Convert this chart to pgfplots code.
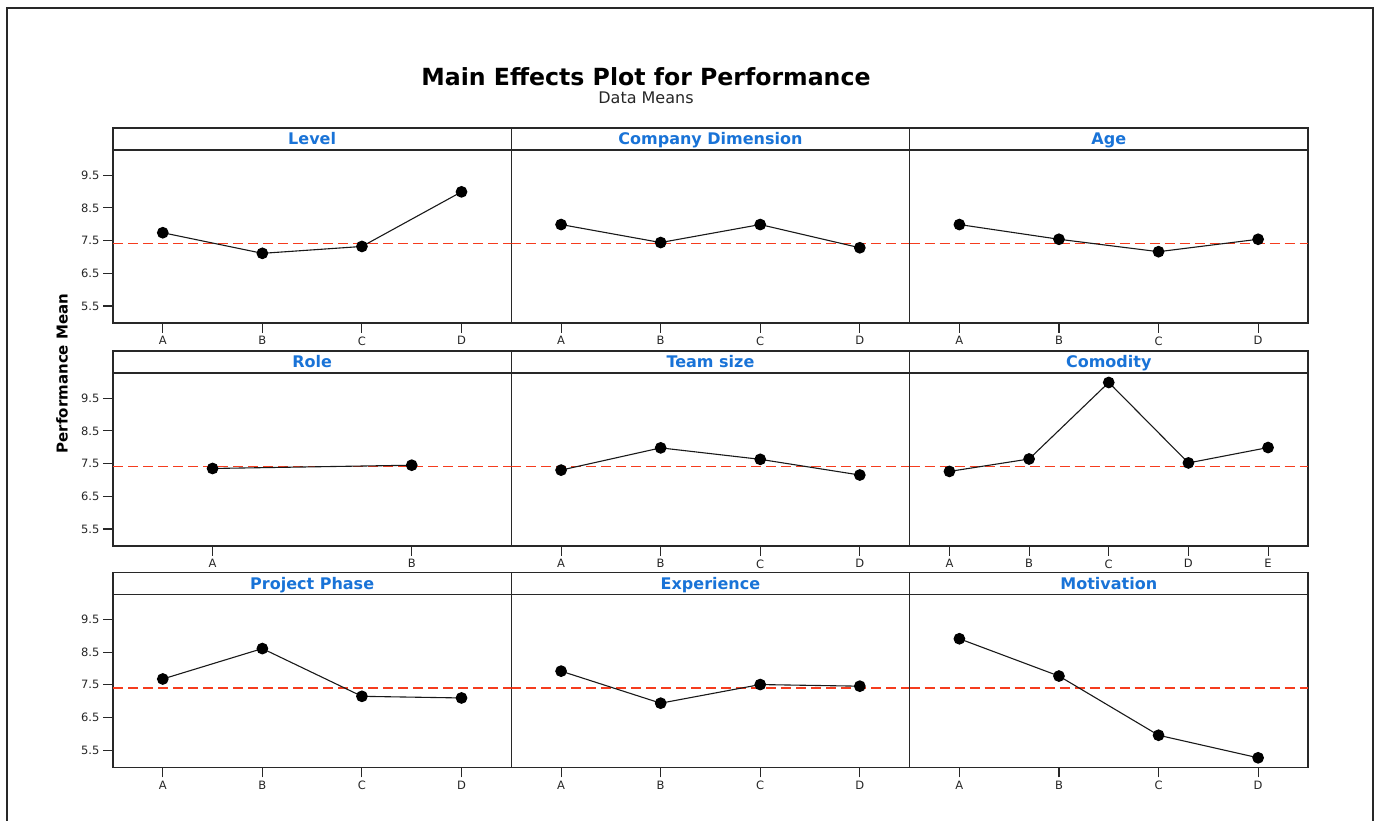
\documentclass[border=0pt]{standalone}
\usepackage{pgfplots}
\pgfplotsset{compat=1.18}
\usepackage{fontspec}
\setmainfont{DejaVu Sans}
\definecolor{stripblue}{RGB}{25,115,215}
\definecolor{refred}{RGB}{245,60,30}
\definecolor{framegray}{RGB}{40,40,40}

\pgfplotsset{
  mep/.style={
    scale only axis, width=398.3pt, height=173pt,
    ymin=4.98, ymax=10.27,
    axis line style={framegray, line width=1.3pt},
    tick style={framegray, line width=1.1pt},
    tick align=outside,
    major tick length=10pt,
    xtick pos=bottom, ytick pos=left,
    /pgf/number format/assume math mode=true,
    ticklabel style={font=\fontsize{11.5}{13}\selectfont, text=black!85},
    every axis title/.style={at={(0.5,1)}, anchor=south,
      draw=framegray, line width=1.3pt, minimum width=398.3pt,
      minimum height=22pt, inner sep=0pt, outer sep=0pt,
      text height=11.7pt, text depth=0pt,
      font=\bfseries\fontsize{16}{18}\selectfont, text=stripblue},
    anchor=north west,
  },
  lefty/.style={ytick={5.5,6.5,7.5,8.5,9.5},
    yticklabels={5.5,6.5,7.5,8.5,9.5}},
  noy/.style={ytick=\empty},
  four/.style={xmin=0.5, xmax=4.5, xtick={1,2,3,4}, xticklabels={A,B,C,D}},
  two/.style={xmin=0.5, xmax=2.5, xtick={1,2}, xticklabels={A,B}},
  five/.style={xmin=0.5, xmax=5.5, xtick={1,2,3,4,5}, xticklabels={A,B,C,D,E}},
  refl/.style={refred, line width=1.8pt, dash pattern=on 10pt off 5pt, forget plot},
  dat/.style={black!90, line width=1.1pt, mark=*, mark size=5.3pt, mark options={fill=black, draw=black}},
}

\begin{document}
\begin{tikzpicture}
\useasboundingbox (0,0) rectangle (1377pt,821pt);
\draw[framegray, line width=1.5pt] (7pt,-5pt) -- (7pt,813pt) -- (1373pt,813pt) -- (1373pt,-5pt);
\node[anchor=base, font=\bfseries\fontsize{23.6}{28}\selectfont] at (646pt,735.3pt) {Main Effects Plot for Performance};
\node[anchor=base, font=\fontsize{16}{19}\selectfont, text=black!85] at (646pt,717pt) {Data Means};
\node[rotate=90, font=\bfseries\fontsize{15}{17}\selectfont] at (62pt,447.5pt) {Performance Mean};

% Row 1
\begin{axis}[mep, lefty, four, at={(113pt,671pt)}, title={Level}]
\addplot[refl] coordinates {(0.5,7.41) (4.5,7.41)};
\addplot[dat] coordinates {(1,7.74) (2,7.11) (3,7.32) (4,8.99)};
\end{axis}
\begin{axis}[mep, noy, four, at={(511.3pt,671pt)}, title={Company Dimension}]
\addplot[refl] coordinates {(0.5,7.41) (4.5,7.41)};
\addplot[dat] coordinates {(1,7.99) (2,7.44) (3,7.99) (4,7.28)};
\end{axis}
\begin{axis}[mep, noy, four, at={(909.6pt,671pt)}, title={Age}]
\addplot[refl] coordinates {(0.5,7.41) (4.5,7.41)};
\addplot[dat] coordinates {(1,7.99) (2,7.54) (3,7.16) (4,7.54)};
\end{axis}

% Row 2
\begin{axis}[mep, lefty, two, at={(113pt,448pt)}, title={Role}]
\addplot[refl] coordinates {(0.5,7.41) (2.5,7.41)};
\addplot[dat] coordinates {(1,7.35) (2,7.45)};
\end{axis}
\begin{axis}[mep, noy, four, at={(511.3pt,448pt)}, title={Team size}]
\addplot[refl] coordinates {(0.5,7.41) (4.5,7.41)};
\addplot[dat] coordinates {(1,7.30) (2,7.98) (3,7.63) (4,7.15)};
\end{axis}
\begin{axis}[mep, noy, five, at={(909.6pt,448pt)}, title={Comodity}]
\addplot[refl] coordinates {(0.5,7.41) (5.5,7.41)};
\addplot[dat] coordinates {(1,7.26) (2,7.64) (3,9.98) (4,7.52) (5,7.99)};
\end{axis}

% Row 3
\begin{axis}[mep, lefty, four, at={(113pt,226.7pt)}, title={Project Phase}]
\addplot[refl] coordinates {(0.5,7.41) (4.5,7.41)};
\addplot[dat] coordinates {(1,7.68) (2,8.61) (3,7.15) (4,7.10)};
\end{axis}
\begin{axis}[mep, noy, four, at={(511.3pt,226.7pt)}, title={Experience}]
\addplot[refl] coordinates {(0.5,7.41) (4.5,7.41)};
\addplot[dat] coordinates {(1,7.92) (2,6.94) (3,7.51) (4,7.46)};
\end{axis}
\begin{axis}[mep, noy, four, at={(909.6pt,226.7pt)}, title={Motivation}]
\addplot[refl] coordinates {(0.5,7.41) (4.5,7.41)};
\addplot[dat] coordinates {(1,8.91) (2,7.77) (3,5.96) (4,5.27)};
\end{axis}
\end{tikzpicture}
\end{document}
